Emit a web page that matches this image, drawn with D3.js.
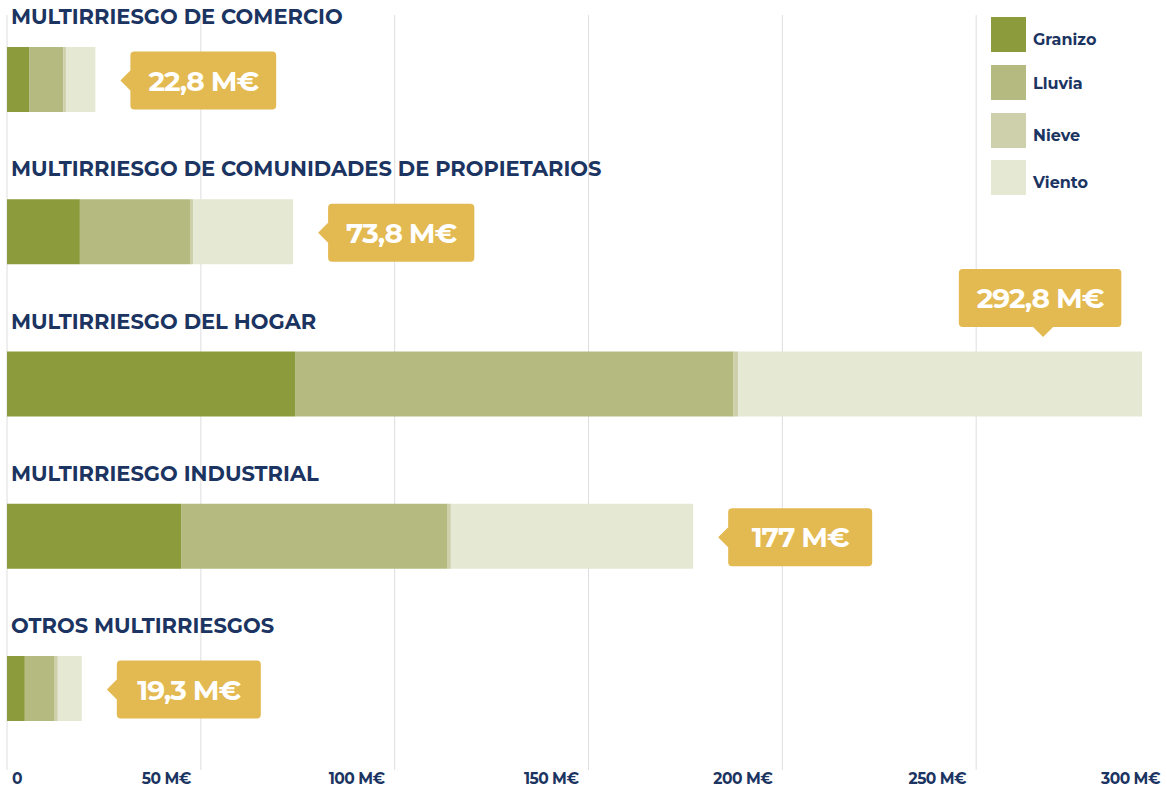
<!DOCTYPE html>
<html>
<head>
<meta charset="utf-8">
<script src="https://cdn.jsdelivr.net/npm/d3@7"></script>
<style>
  body { margin: 0; background: #fff; }
  text { font-family: Montserrat, Inter, "Open Sans", sans-serif; font-weight: 700; }
</style>
</head>
<body>
<svg id="chart"></svg>
<script>
var categories = [
  "MULTIRRIESGO DE COMERCIO",
  "MULTIRRIESGO DE COMUNIDADES DE PROPIETARIOS",
  "MULTIRRIESGO DEL HOGAR",
  "MULTIRRIESGO INDUSTRIAL",
  "OTROS MULTIRRIESGOS"
];
var seriesNames = ["Granizo", "Lluvia", "Nieve", "Viento"];
// values in M€
var granizo = [5.7, 18.8, 74.3, 44.9, 4.6];
var lluvia  = [8.8, 28.4, 113.0, 68.6, 7.7];
var nieve   = [0.7, 0.8, 1.3, 1.0, 0.8];
var viento  = [7.6, 25.8, 104.2, 62.5, 6.2];
var totalLabels = ["22,8 M€", "73,8 M€", "292,8 M€", "177 M€", "19,3 M€"];
var tickValues = [0, 50, 100, 150, 200, 250, 300];
var tickLabels = ["0", "50 M€", "100 M€", "150 M€", "200 M€", "250 M€", "300 M€"];

var colors = ["#8c9b3c", "#b5bb80", "#cdd0aa", "#e5e9d4"];
var navy = "#1b3461";
var gold = "#e3b952";

var width = 1167;
var height = 789;
var svg = d3.select("#chart")
            .attr("width", width)
            .attr("height", height);

var x = d3.scaleLinear()
          .domain([0, 300])
          .range([7, 1170]);

// each band holds one bar (65px) plus the gap/title above the next one
var barH = 65;
var y = d3.scaleBand()
          .domain(categories)
          .range([47, 47 + 152.25 * categories.length]);
function barTop(c) { return y(c); }

var rows = categories.map(function(c, i) {
  return { cat: c, Granizo: granizo[i], Lluvia: lluvia[i], Nieve: nieve[i], Viento: viento[i], label: totalLabels[i] };
});
var stacked = d3.stack().keys(seriesNames)(rows);

// grid
svg.selectAll("line.grid")
  .data(tickValues)
  .enter()
  .append("line")
  .attr("class", "grid")
  .attr("x1", function(d) { return x(d); })
  .attr("x2", function(d) { return x(d); })
  .attr("y1", 15)
  .attr("y2", 770)
  .attr("stroke", "#dedede")
  .attr("stroke-width", 1);

svg.selectAll("text.tick")
  .data(tickValues)
  .enter()
  .append("text")
  .attr("class", "tick")
  .attr("x", function(d) { return d === 0 ? x(d) + 5 : x(d) - 10; })
  .attr("y", 784)
  .attr("text-anchor", function(d) { return d === 0 ? "start" : "end"; })
  .attr("fill", navy)
  .style("font-size", "15.5px")
  .style("letter-spacing", "-0.5px")
  .text(function(d, i) { return tickLabels[i]; });

// category titles
svg.selectAll("text.title")
  .data(categories)
  .enter()
  .append("text")
  .attr("class", "title")
  .attr("x", 11)
  .attr("y", function(d) { return barTop(d) - 23; })
  .attr("fill", navy)
  .style("font-size", "21px")
  .text(function(d) { return d; });

// stacked bars
svg.selectAll("g.layer")
  .data(stacked)
  .enter()
  .append("g")
  .attr("class", "layer")
  .attr("fill", function(d, i) { return colors[i]; })
  .selectAll("rect")
  .data(function(d) { return d; })
  .enter()
  .append("rect")
  .attr("x", function(d) { return x(d[0]); })
  .attr("width", function(d) { return x(d[1]) - x(d[0]); })
  .attr("y", function(d) { return barTop(d.data.cat); })
  .attr("height", barH);

// callouts (gold label boxes with a little pointer)
rows.forEach(function(row) {
  var total = row.Granizo + row.Lluvia + row.Nieve + row.Viento;
  var end = x(total);
  var top = barTop(row.cat);
  var g = svg.append("g");
  var t = g.append("text")
    .attr("fill", "#fff")
    .style("font-size", "28px")
    .style("letter-spacing", "-1px")
    .attr("text-anchor", "middle")
    .text(row.label);
  var w = Math.max(144, t.node().getComputedTextLength() + 36);
  var h = 58, r = 4;
  var above = end + 30 + w > width;
  var cx, cy, bx, by, path;
  if (above) {
    cx = end - 102;
    cy = top - 53.5;
    bx = cx - w / 2; by = cy - h / 2;
    path = "M" + (bx + r) + "," + by + "H" + (bx + w - r) + "Q" + (bx + w) + "," + by + " " + (bx + w) + "," + (by + r) +
      "V" + (by + h - r) + "Q" + (bx + w) + "," + (by + h) + " " + (bx + w - r) + "," + (by + h) +
      "H" + (cx + 13) + "L" + (cx + 3) + "," + (by + h + 10) + "L" + (cx - 7) + "," + (by + h) +
      "H" + (bx + r) + "Q" + bx + "," + (by + h) + " " + bx + "," + (by + h - r) +
      "V" + (by + r) + "Q" + bx + "," + by + " " + (bx + r) + "," + by + "Z";
  } else {
    var tip = end + 25;
    bx = tip + 10;
    cy = top + barH / 2 + 1;
    by = cy - h / 2;
    cx = bx + w / 2;
    path = "M" + (bx + r) + "," + by + "H" + (bx + w - r) + "Q" + (bx + w) + "," + by + " " + (bx + w) + "," + (by + r) +
      "V" + (by + h - r) + "Q" + (bx + w) + "," + (by + h) + " " + (bx + w - r) + "," + (by + h) +
      "H" + (bx + r) + "Q" + bx + "," + (by + h) + " " + bx + "," + (by + h - r) +
      "V" + (cy + 10) + "L" + tip + "," + cy + "L" + bx + "," + (cy - 10) +
      "V" + (by + r) + "Q" + bx + "," + by + " " + (bx + r) + "," + by + "Z";
  }
  g.insert("path", "text").attr("d", path).attr("fill", gold);
  t.attr("x", cx).attr("y", cy + 10);
});

// legend
var legendY = [17, 65, 113, 160];
var legend = svg.selectAll("g.legend")
  .data(seriesNames)
  .enter()
  .append("g")
  .attr("class", "legend")
  .attr("transform", function(d, i) { return "translate(991," + legendY[i] + ")"; });

legend.append("rect")
  .attr("width", 35)
  .attr("height", 35)
  .attr("fill", function(d, i) { return colors[i]; });

legend.append("text")
  .attr("x", 42)
  .attr("y", function(d, i) { return [28, 24, 28, 28][i]; })
  .attr("fill", navy)
  .style("font-size", "16px")
  .text(function(d) { return d; });
</script>
</body>
</html>
